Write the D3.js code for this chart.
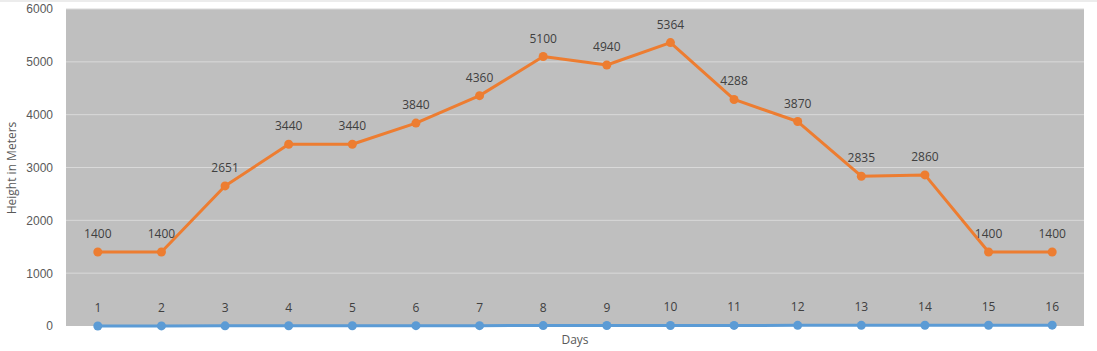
<!DOCTYPE html>
<html><head><meta charset="utf-8">
<script src="https://cdn.jsdelivr.net/npm/d3@7"></script>
<style>body{margin:0;background:#fff;}svg{display:block;font-family:"Open Sans","Noto Sans",sans-serif;}</style>
</head><body><svg id="c" width="1097" height="351"></svg>
<script>
const days = [1,2,3,4,5,6,7,8,9,10,11,12,13,14,15,16];
const heights = [1400,1400,2651,3440,3440,3840,4360,5100,4940,5364,4288,3870,2835,2860,1400,1400];
const yTicks = [0,1000,2000,3000,4000,5000,6000];

const svg = d3.select("#c");
const m = {l:66, r:1084, t:9, b:326};
svg.append("line").attr("x1",0).attr("x2",1097).attr("y1",1).attr("y2",1).attr("stroke","#d9d9d9");
const x = d3.scaleBand().domain(days).range([m.l,m.r]);
const y = d3.scaleLinear().domain([0,6000]).range([m.b,m.t]);
const cx = d => x(d)+x.bandwidth()/2;

svg.append("rect").attr("x",m.l).attr("y",m.t).attr("width",m.r-m.l).attr("height",m.b-m.t).attr("fill","#bfbfbf");
svg.append("g").selectAll("line").data(yTicks.slice(1)).join("line")
  .attr("x1",m.l).attr("x2",m.r).attr("y1",d=>y(d)).attr("y2",d=>y(d))
  .attr("stroke","#d9d9d9").attr("stroke-width",1);

const ya = svg.append("g").attr("transform",`translate(${m.l},0)`)
  .call(d3.axisLeft(y).tickValues(yTicks).tickFormat(d3.format("d")).tickSize(0).tickPadding(13));
ya.select(".domain").remove();
ya.selectAll("text").attr("fill","#595959").style("font-size","12px");

svg.append("text").attr("transform","translate(16,168) rotate(-90)").attr("text-anchor","middle")
  .attr("fill","#595959").style("font-size","12px").text("Height in Meters");
svg.append("text").attr("x",575).attr("y",344).attr("text-anchor","middle")
  .attr("fill","#595959").style("font-size","12px").text("Days");

function series(vals,color){
  const pts = days.map((d,i)=>({d,v:vals[i]}));
  svg.append("path").datum(pts).attr("fill","none").attr("stroke",color).attr("stroke-width",3)
    .attr("stroke-linejoin","round")
    .attr("d",d3.line().x(p=>cx(p.d)).y(p=>y(p.v)));
  svg.append("g").selectAll("circle").data(pts).join("circle")
    .attr("cx",p=>cx(p.d)).attr("cy",p=>y(p.v)).attr("r",4.5).attr("fill",color);
  svg.append("g").selectAll("text").data(pts).join("text")
    .attr("x",p=>cx(p.d)).attr("y",p=>y(p.v)-14).attr("text-anchor","middle")
    .attr("fill","#404040").style("font-size","12px").text(p=>p.v);
}
series(heights,"#ed7d31");
series(days,"#5b9bd5");
</script></body></html>
